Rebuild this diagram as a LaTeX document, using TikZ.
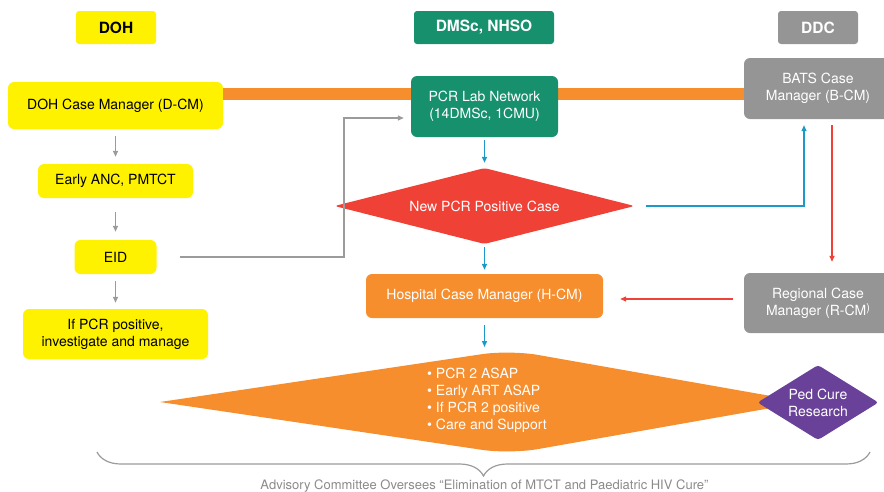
\documentclass[tikz,border=0pt]{standalone}
\usepackage{fontspec}
\setmainfont{TeX Gyre Heros}
\usetikzlibrary{shapes.geometric,arrows.meta,decorations.pathreplacing}
\definecolor{dohyellow}{HTML}{FFF200}
\definecolor{dmscgreen}{HTML}{17906E}
\definecolor{ddcgray}{HTML}{959595}
\definecolor{hcmorange}{HTML}{F68E2E}
\definecolor{pcrred}{HTML}{EF4136}
\definecolor{flowblue}{HTML}{1B9AC9}
\definecolor{curepurple}{HTML}{6A4198}
\definecolor{linegray}{HTML}{9B9B9B}
\definecolor{captiongray}{HTML}{8A8A8A}
\begin{document}
\begin{tikzpicture}[x=1pt,y=-1pt,>={Triangle[length=6pt,width=5pt]}]
\tikzstyle{titre}=[rounded corners=3pt, font=\fontsize{15.5}{17}\selectfont\bfseries, minimum height=33pt, inner sep=0pt];
\tikzstyle{boite}=[rounded corners=6pt, font=\fontsize{14}{17}\selectfont, align=center, inner sep=0pt];
\tikzstyle{losange}=[diamond, rounded corners=3pt, font=\fontsize{14}{17}\selectfont, align=center, text=white, inner sep=0pt];
\tikzstyle{fleche}=[->, linegray, line width=1.3pt];
\tikzstyle{flechebleue}=[->, flowblue, line width=1.3pt];
\tikzstyle{flecherouge}=[->, pcrred, line width=1.3pt];
\tikzstyle{barre}=[line width=12pt, hcmorange];
\useasboundingbox (0,0) rectangle (884,491);

\node[titre, fill=dohyellow, minimum width=80pt] (dohtitle) at (116,27.5) {DOH};
\node[titre, fill=dmscgreen, text=white, minimum width=140pt] (dmsctitle) at (484,27.5) {DMSc, NHSO};
\node[titre, fill=ddcgray, text=white, minimum width=80pt] (ddctitle) at (818,27.5) {DDC};

\node[boite, fill=dohyellow, minimum width=215pt, minimum height=47pt] (dcm) at (115.5,105.5) {DOH Case Manager (D-CM)};
\node[boite, fill=dohyellow, minimum width=155pt, minimum height=34pt] (anc) at (115.5,181) {Early ANC, PMTCT};
\node[boite, fill=dohyellow, minimum width=82pt, minimum height=34pt] (eid) at (115.5,257) {EID};
\node[boite, fill=dohyellow, minimum width=185pt, minimum height=50pt] (investigate) at (115.5,334) {If PCR positive,\\investigate and manage};

\node[boite, fill=ddcgray, text=white, minimum width=148pt, minimum height=61pt] (bcm) at (818,88.5) {BATS Case\\Manager (B-CM)};
\coordinate (barre) at (0,94);
\draw[barre] (dcm.east |- barre) -- (bcm.west |- barre);
\node[boite, fill=dmscgreen, text=white, minimum width=147pt, minimum height=61pt] (lab) at (484.5,106.5) {PCR Lab Network\\(14DMSc, 1CMU)};

\node[losange, fill=pcrred, aspect=4, minimum width=300pt, minimum height=76pt] (newcase) at (484.5,206) {New PCR Positive Case};
\node[boite, fill=hcmorange, text=white, minimum width=237pt, minimum height=44pt] (hcm) at (484.5,296) {Hospital Case Manager (H-CM)};
\node[boite, fill=ddcgray, text=white, minimum width=148pt, minimum height=60pt] (rcm) at (818,303) {Regional Case\\Manager (R-CM\raisebox{4pt}{\fontsize{11}{12}\selectfont )}};

\fill[hcmorange] (160,402) [rounded corners=28pt] -- (510,350) -- (805,402) -- (510,454) [sharp corners] -- cycle;
\coordinate (cime) at (484.5,354);
\node[font=\fontsize{14}{17}\selectfont, text=white, align=left, anchor=west, inner sep=0pt] (actions) at (427,400.5) {• PCR 2 ASAP\\• Early ART ASAP\\• If PCR 2 positive\\• Care and Support};
\node[losange, fill=curepurple, aspect=1.6, minimum width=121pt, minimum height=75pt] (pedcure) at (818,402.5) {Ped Cure\\Research};

\draw[fleche, shorten <=7pt, shorten >=7pt] (dcm.south) -- (anc.north);
\draw[fleche, shorten <=14pt, shorten >=8pt] (anc.south) -- (eid.north);
\draw[fleche, shorten <=7pt, shorten >=6pt] (eid.south) -- (investigate.north);
\coordinate (coude) at (344,118);
\draw[fleche, shorten <=23pt, shorten >=7pt] (eid.east) -| (coude) -- (coude -| lab.west);

\draw[flechebleue, shorten <=3pt, shorten >=5pt] (lab.south) -- (newcase.north);
\draw[flechebleue, shorten <=3pt, shorten >=4pt] (newcase.south) -- (hcm.north);
\draw[flechebleue, shorten <=7pt, shorten >=7pt] (hcm.south) -- (cime);
\draw[flechebleue, shorten <=11pt, shorten >=6pt] (newcase.east) -| ([xshift=-14pt]bcm.south);
\draw[flecherouge, shorten <=6pt, shorten >=11pt] ([xshift=14pt]bcm.south) -- ([xshift=14pt]rcm.north);
\draw[flecherouge, shorten <=11pt, shorten >=17pt] ([yshift=4pt]rcm.west) -- ([yshift=4pt]rcm.west -| hcm.east);

\draw[linegray, line width=1.2pt, decorate, decoration={brace, mirror, amplitude=24pt}] (97,452) -- (870,452);
\node[text=captiongray, font=\fontsize{13}{15}\selectfont, anchor=base, inner sep=0pt] (comite) at (484.5,489) {Advisory Committee Oversees “Elimination of MTCT and Paediatric HIV Cure”};
\end{tikzpicture}
\end{document}
